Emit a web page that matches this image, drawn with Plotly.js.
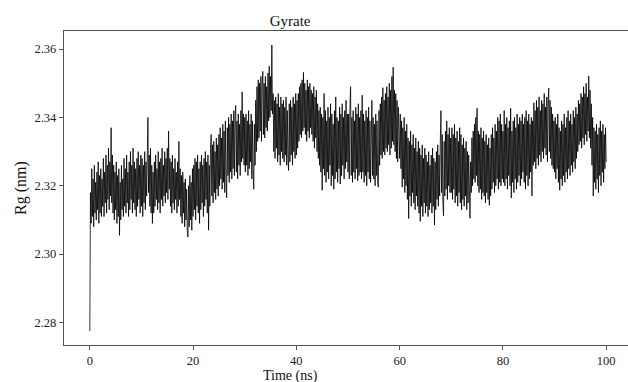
<!DOCTYPE html>
<html>
<head>
<meta charset="utf-8">
<script src="https://cdn.plot.ly/plotly-3.0.1.min.js"></script>
<style>
html,body{margin:0;padding:0;overflow:hidden;background:#fff;}
#chart{width:632px;height:382px;}
</style>
</head>
<body>
<div id="chart"></div>
<script>
var timeStep = 0.125;
var rg_00_10 = [2.2775,2.318,2.309,2.325,2.311,2.322,2.308,2.326,2.312,2.321,2.310,2.324,2.313,2.327,2.309,2.323,2.312,2.325,2.311,2.322,
 2.314,2.328,2.311,2.324,2.315,2.329,2.312,2.326,2.316,2.331,2.313,2.327,2.317,2.337,2.315,2.329,2.312,2.326,2.310,2.324,
 2.313,2.327,2.309,2.323,2.311,2.325,2.3055,2.321,2.310,2.326,2.313,2.322,2.311,2.328,2.314,2.325,2.312,2.329,2.315,2.324,
 2.311,2.327,2.313,2.330,2.316,2.326,2.312,2.331,2.315,2.327,2.313,2.325,2.311,2.328,2.314,2.330,2.316,2.326,2.312,2.329];
var rg_10_20 = [2.314,2.328,2.311,2.326,2.315,2.330,2.313,2.327,2.317,2.332,2.340,2.318,2.329,2.314,2.331,2.312,2.326,2.309,2.324,2.312,
 2.327,2.314,2.329,2.316,2.325,2.313,2.330,2.315,2.327,2.312,2.328,2.316,2.331,2.314,2.326,2.317,2.330,2.315,2.328,2.318,
 2.331,2.316,2.336,2.319,2.328,2.314,2.327,2.312,2.329,2.315,2.325,2.313,2.328,2.316,2.324,2.312,2.327,2.314,2.333,2.316,
 2.325,2.311,2.323,2.309,2.324,2.312,2.321,2.308,2.322,2.310,2.319,2.307,2.305,2.320,2.308,2.323,2.310,2.321,2.307,2.325];
var rg_20_30 = [2.311,2.326,2.313,2.328,2.310,2.327,2.314,2.329,2.312,2.325,2.309,2.327,2.313,2.329,2.315,2.326,2.311,2.328,2.314,2.330,
 2.316,2.327,2.312,2.329,2.307,2.326,2.314,2.331,2.335,2.317,2.332,2.315,2.333,2.318,2.330,2.316,2.334,2.319,2.332,2.317,
 2.335,2.320,2.337,2.322,2.334,2.319,2.338,2.321,2.336,2.318,2.339,2.322,2.3165,2.337,2.323,2.340,2.321,2.338,2.324,2.341,
 2.322,2.339,2.325,2.342,2.323,2.340,2.3435,2.324,2.339,2.322,2.341,2.326,2.338,2.323,2.342,2.327,2.3475,2.328,2.341,2.326];
var rg_30_40 = [2.340,2.324,2.341,2.326,2.339,2.323,2.342,2.325,2.338,2.327,2.341,2.322,2.339,2.324,2.319,2.338,2.326,2.345,2.330,2.349,
 2.333,2.351,2.334,2.350,2.336,2.352,2.333,2.349,2.3535,2.335,2.350,2.334,2.352,2.337,2.349,2.336,2.353,2.339,2.355,2.340,
 2.352,2.342,2.3612,2.341,2.347,2.330,2.345,2.328,2.346,2.331,2.344,2.327,2.347,2.329,2.343,2.326,2.346,2.330,2.344,2.328,
 2.345,2.327,2.343,2.329,2.346,2.326,2.342,2.328,2.3245,2.344,2.327,2.345,2.329,2.343,2.326,2.346,2.330,2.344,2.328,2.347];
var rg_40_50 = [2.329,2.345,2.331,2.347,2.333,2.349,2.335,2.350,2.334,2.351,2.336,2.3532,2.337,2.350,2.335,2.348,2.333,2.351,2.336,2.349,
 2.334,2.350,2.337,2.348,2.335,2.347,2.333,2.349,2.331,2.346,2.334,2.348,2.330,2.344,2.328,2.342,2.326,2.343,2.324,2.341,
 2.3187,2.340,2.325,2.347,2.323,2.342,2.321,2.339,2.324,2.343,2.322,2.340,2.326,2.344,2.320,2.341,2.323,2.338,2.319,2.342,
 2.322,2.346,2.324,2.340,2.321,2.339,2.325,2.343,2.3205,2.341,2.323,2.344,2.326,2.340,2.322,2.342,2.325,2.345,2.327,2.341];
var rg_50_60 = [2.324,2.341,2.322,2.343,2.349,2.323,2.340,2.321,2.342,2.324,2.339,2.322,2.343,2.325,2.341,2.3215,2.344,2.323,2.340,2.324,
 2.342,2.322,2.3465,2.324,2.341,2.321,2.339,2.323,2.342,2.320,2.340,2.324,2.343,2.322,2.339,2.321,2.342,2.345,2.323,2.340,
 2.322,2.338,2.320,2.341,2.323,2.339,2.321,2.3196,2.342,2.326,2.344,2.329,2.346,2.328,2.3487,2.330,2.345,2.329,2.347,2.331,
 2.349,2.330,2.346,2.332,2.350,2.329,2.348,2.331,2.352,2.333,2.3547,2.332,2.348,2.330,2.347,2.328,2.345,2.327,2.343,2.329];
var rg_60_70 = [2.328,2.341,2.325,2.339,2.3196,2.337,2.322,2.340,2.318,2.336,2.320,2.338,2.316,2.334,2.3104,2.333,2.317,2.336,2.314,2.332,
 2.318,2.335,2.315,2.331,2.313,2.334,2.317,2.330,2.314,2.333,2.312,2.331,2.3096,2.329,2.314,2.332,2.311,2.328,2.315,2.331,
 2.312,2.329,2.314,2.327,2.311,2.330,2.313,2.326,2.315,2.329,2.312,2.331,2.314,2.328,2.3085,2.327,2.313,2.330,2.316,2.332,
 2.314,2.329,2.317,2.333,2.342,2.318,2.335,2.315,2.3112,2.333,2.317,2.336,2.319,2.339,2.316,2.335,2.320,2.337,2.318,2.334];
var rg_70_80 = [2.318,2.337,2.316,2.335,2.319,2.338,2.315,2.334,2.317,2.336,2.314,2.333,2.318,2.337,2.315,2.335,2.313,2.332,2.316,2.334,
 2.314,2.331,2.317,2.333,2.313,2.330,2.315,2.329,2.312,2.3105,2.327,2.318,2.334,2.320,2.336,2.322,2.338,2.321,2.340,2.323,
 2.3427,2.320,2.336,2.318,2.335,2.319,2.337,2.316,2.334,2.318,2.336,2.317,2.333,2.315,2.335,2.318,2.332,2.316,2.334,2.3143,
 2.331,2.317,2.335,2.319,2.337,2.321,2.334,2.318,2.338,2.320,2.336,2.322,2.340,2.319,2.339,2.321,2.341,2.320,2.338,2.322];
var rg_80_90 = [2.336,2.321,2.342,2.320,2.338,2.322,2.340,2.319,2.337,2.323,2.339,2.320,2.3427,2.3164,2.336,2.321,2.339,2.318,2.340,2.322,
 2.337,2.319,2.341,2.321,2.338,2.323,2.340,2.320,2.339,2.322,2.341,2.324,2.338,2.321,2.340,2.319,2.342,2.323,2.339,2.320,
 2.341,2.322,2.338,2.324,2.340,2.317,2.339,2.326,2.3443,2.327,2.342,2.325,2.345,2.328,2.343,2.326,2.346,2.329,2.342,2.327,
 2.345,2.330,2.344,2.328,2.347,2.331,2.343,2.329,2.346,2.327,2.344,2.3486,2.330,2.345,2.328,2.343,2.326,2.341,2.325,2.339];
var rg_90_100 = [2.324,2.340,2.322,2.338,2.325,2.341,2.321,2.337,2.3187,2.336,2.322,2.339,2.320,2.338,2.323,2.341,2.321,2.337,2.324,2.340,
 2.322,2.342,2.325,2.339,2.323,2.341,2.326,2.338,2.324,2.342,2.327,2.340,2.325,2.343,2.328,2.341,2.330,2.345,2.332,2.344,
 2.333,2.347,2.331,2.346,2.334,2.349,2.332,2.347,2.335,2.350,2.333,2.346,2.336,2.3521,2.334,2.348,2.331,2.344,2.326,2.340,
 2.317,2.337,2.321,2.336,2.319,2.338,2.322,2.335,2.318,2.337,2.323,2.339,2.320,2.336,2.324,2.338,2.321,2.335,2.325,2.337,
 2.327];

var xTicks = [0,20,40,60,80,100];
var yTicks = [2.28,2.30,2.32,2.34,2.36];

var rg = [].concat(rg_00_10,rg_10_20,rg_20_30,rg_30_40,rg_40_50,rg_50_60,rg_60_70,rg_70_80,rg_80_90,rg_90_100);
var time = rg.map(function(_,i){return i*timeStep;});

var FONT = '"Liberation Serif","Times New Roman",serif';
var axisCommon = {
  showline:true, linecolor:'#555', linewidth:1.2, mirror:true,
  ticks:'outside', ticklen:4, tickwidth:1, tickcolor:'#555',
  showgrid:false, zeroline:false,
  tickfont:{family:FONT,size:12.5,color:'#222'}
};

var layout = {
  width:632, height:382,
  margin:{l:64,r:0,t:31,b:37},
  paper_bgcolor:'#fff', plot_bgcolor:'#fff',
  showlegend:false,
  title:{text:'Gyrate', font:{family:FONT,size:15,color:'#111'},
         xref:'paper', x:0.398, xanchor:'center', yref:'container', y:0.946, yanchor:'middle'},
  xaxis:Object.assign({}, axisCommon, {range:[-5,105], tickvals:xTicks, ticktext:xTicks.map(String)}),
  yaxis:Object.assign({}, axisCommon, {range:[2.2734,2.3653], tickvals:yTicks, ticktext:yTicks.map(function(v){return v.toFixed(2);}),
         title:{text:'Rg (nm)', font:{family:FONT,size:16,color:'#111'}, standoff:3}}),
  annotations:[{text:'Time (ns)', xref:'paper', yref:'paper', x:0.398, y:-0.098, xanchor:'center', yanchor:'middle',
                showarrow:false, font:{family:FONT,size:14,color:'#111'}}]
};

Plotly.newPlot('chart', [{
  x:time, y:rg, type:'scatter', mode:'lines',
  line:{color:'#000', width:0.8}, hoverinfo:'skip'
}], layout, {displayModeBar:false, staticPlot:true});
</script>
</body>
</html>
